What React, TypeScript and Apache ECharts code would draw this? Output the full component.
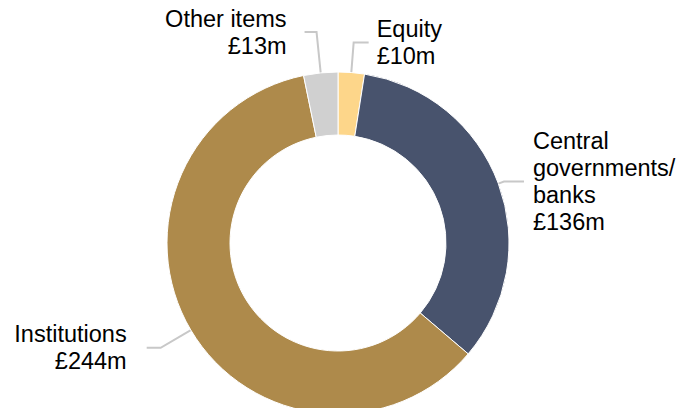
import React, { useEffect, useRef } from "react";
import * as echarts from "echarts";

const categories = ["Equity", "Central\ngovernments/\nbanks", "Institutions", "Other items"];
const values = [10, 136, 244, 13];
const valueLabels = ["£10m", "£136m", "£244m", "£13m"];
const colors = ["#FDD68A", "#48536D", "#AE8A4B", "#D0D0D0"];
const lineLengths = [30, 6, 35, 41];
const lineLengths2 = [15, 20, 14, 12];
const labelGaps = [8, 9, 20, 18];

export default function App() {
  const ref = useRef<HTMLDivElement>(null);
  useEffect(() => {
    document.body.style.margin = "0";
    const chart = echarts.init(ref.current!, null, { renderer: "svg" });
    const data = categories.map((name, i) => ({
      name,
      value: values[i],
      itemStyle: { color: colors[i] },
      label: { distanceToLabelLine: labelGaps[i] },
      labelLine: { length: lineLengths[i], length2: lineLengths2[i] },
    }));
    chart.setOption({
      animation: false,
      series: [
        {
          type: "pie",
          center: [338, 243],
          radius: [108, 171],
          startAngle: 90,
          clockwise: true,
          avoidLabelOverlap: false,
          itemStyle: { borderColor: "#ffffff", borderWidth: 1 },
          label: {
            show: true,
            position: "outside",
            color: "#000000",
            fontFamily: "Liberation Sans, Arial, sans-serif",
            fontSize: 23.5,
            lineHeight: 27,
            formatter: (p: any) => `${p.name}\n${valueLabels[p.dataIndex]}`,
          },
          labelLine: {
            show: true,
            smooth: false,
            lineStyle: { color: "#C8C8C8", width: 2 },
          },
          emphasis: { disabled: true },
          data,
        },
      ],
    });
    return () => chart.dispose();
  }, []);
  return <div ref={ref} style={{ width: 692, height: 408 }} />;
}
